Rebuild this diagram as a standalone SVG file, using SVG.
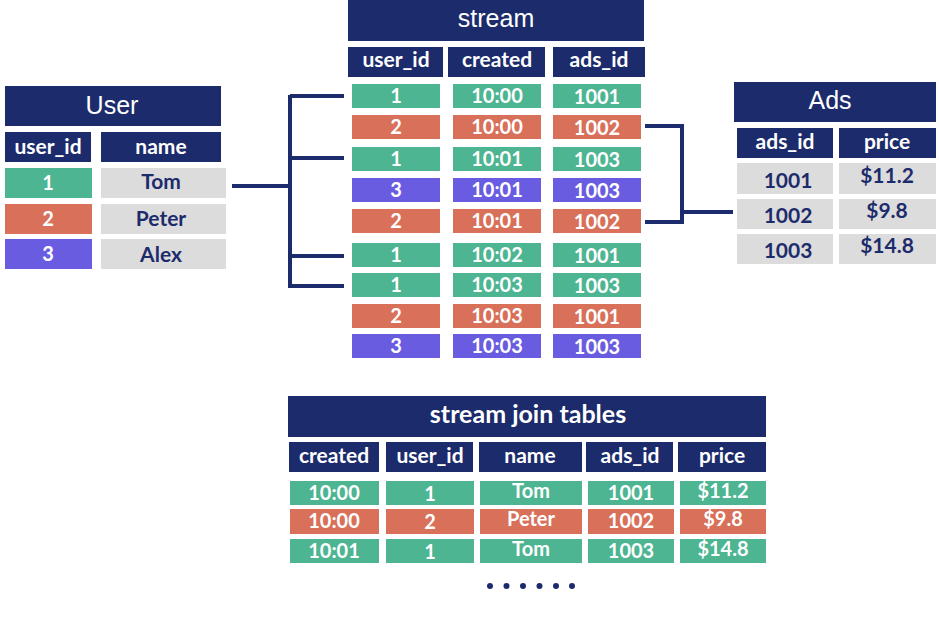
<svg xmlns="http://www.w3.org/2000/svg" width="939" height="620" viewBox="0 0 939 620">
<style>
.nv{fill:#1c2b6b}
.g{fill:#4db592}
.o{fill:#d8705a}
.p{fill:#6a5ce0}
.gr{fill:#dcdcdc}
.ttl{font-family:"Liberation Sans",Arial,sans-serif;font-size:25px;fill:#fff;text-anchor:middle}
.tb{font-family:Lato,"Open Sans",sans-serif;font-weight:bold;font-size:25px;fill:#fff;text-anchor:middle}
.hd{font-family:Lato,"Open Sans",sans-serif;font-weight:bold;font-size:21px;fill:#fff;text-anchor:middle}
.c{font-family:Lato,"Open Sans",sans-serif;font-weight:bold;font-size:20px;fill:#fff;text-anchor:middle}
.cd{font-family:Lato,"Open Sans",sans-serif;font-weight:bold;font-size:21px;fill:#1c2b6b;text-anchor:middle}
.ln{fill:none;stroke:#1c2b6b;stroke-width:4}
</style>
<rect width="939" height="620" fill="#fff"/>

<g id="connectors">
<path class="ln" d="M232,186 H290 M290,95 V288 M290,96 H344 M290,158 H344 M290,256 H344 M290,286 H344"/>
<path class="ln" d="M645,126 H682 V222 H645 M682,212 H733"/>
</g>

<g id="user">
<rect class="nv" x="5" y="86" width="216" height="40"/>
<text class="ttl" x="112" y="114">User</text>
<rect class="nv" x="5" y="132" width="86" height="30"/>
<text class="hd" x="48" y="154">user_id</text>
<rect class="nv" x="101" y="132" width="120" height="30"/>
<text class="hd" x="161" y="154">name</text>
<rect class="g" x="5" y="168" width="87" height="30"/>
<text class="c" x="48" y="190">1</text>
<rect class="gr" x="101" y="168" width="125" height="30"/>
<text class="cd" x="161" y="189">Tom</text>
<rect class="o" x="5" y="204" width="87" height="30"/>
<text class="c" x="48" y="226">2</text>
<rect class="gr" x="101" y="204" width="125" height="30"/>
<text class="cd" x="161" y="226">Peter</text>
<rect class="p" x="5" y="239" width="87" height="30"/>
<text class="c" x="48" y="261">3</text>
<rect class="gr" x="101" y="239" width="125" height="30"/>
<text class="cd" x="161" y="262">Alex</text>
</g>

<g id="stream">
<rect class="nv" x="348" y="0" width="296" height="41"/>
<text class="ttl" x="496" y="27">stream</text>
<rect class="nv" x="348" y="47" width="95" height="30"/>
<text class="hd" x="396" y="67">user_id</text>
<rect class="nv" x="448" y="47" width="97" height="30"/>
<text class="hd" x="497" y="67">created</text>
<rect class="nv" x="553" y="47" width="92" height="30"/>
<text class="hd" x="599" y="67">ads_id</text>

<rect class="g" x="352" y="84" width="88" height="24"/><text class="c" x="396" y="103">1</text>
<rect class="g" x="453" y="84" width="88" height="24"/><text class="c" x="497" y="103">10:00</text>
<rect class="g" x="553" y="84" width="88" height="24"/><text class="c" x="597" y="104">1001</text>

<rect class="o" x="352" y="115" width="88" height="24"/><text class="c" x="396" y="134">2</text>
<rect class="o" x="453" y="115" width="88" height="24"/><text class="c" x="497" y="134">10:00</text>
<rect class="o" x="553" y="115" width="88" height="24"/><text class="c" x="597" y="135">1002</text>

<rect class="g" x="352" y="147" width="88" height="24"/><text class="c" x="396" y="166">1</text>
<rect class="g" x="453" y="147" width="88" height="24"/><text class="c" x="497" y="166">10:01</text>
<rect class="g" x="553" y="147" width="88" height="24"/><text class="c" x="597" y="167">1003</text>

<rect class="p" x="352" y="178" width="88" height="24"/><text class="c" x="396" y="197">3</text>
<rect class="p" x="453" y="178" width="88" height="24"/><text class="c" x="497" y="197">10:01</text>
<rect class="p" x="553" y="178" width="88" height="24"/><text class="c" x="597" y="198">1003</text>

<rect class="o" x="352" y="209" width="88" height="24"/><text class="c" x="396" y="228">2</text>
<rect class="o" x="453" y="209" width="88" height="24"/><text class="c" x="497" y="228">10:01</text>
<rect class="o" x="553" y="209" width="88" height="24"/><text class="c" x="597" y="229">1002</text>

<rect class="g" x="352" y="243" width="88" height="24"/><text class="c" x="396" y="262">1</text>
<rect class="g" x="453" y="243" width="88" height="24"/><text class="c" x="497" y="262">10:02</text>
<rect class="g" x="553" y="243" width="88" height="24"/><text class="c" x="597" y="263">1001</text>

<rect class="g" x="352" y="273" width="88" height="24"/><text class="c" x="396" y="292">1</text>
<rect class="g" x="453" y="273" width="88" height="24"/><text class="c" x="497" y="292">10:03</text>
<rect class="g" x="553" y="273" width="88" height="24"/><text class="c" x="597" y="293">1003</text>

<rect class="o" x="352" y="304" width="88" height="24"/><text class="c" x="396" y="323">2</text>
<rect class="o" x="453" y="304" width="88" height="24"/><text class="c" x="497" y="323">10:03</text>
<rect class="o" x="553" y="304" width="88" height="24"/><text class="c" x="597" y="324">1001</text>

<rect class="p" x="352" y="334" width="88" height="24"/><text class="c" x="396" y="353">3</text>
<rect class="p" x="453" y="334" width="88" height="24"/><text class="c" x="497" y="353">10:03</text>
<rect class="p" x="553" y="334" width="88" height="24"/><text class="c" x="597" y="354">1003</text>
</g>

<g id="ads">
<rect class="nv" x="734" y="82" width="202" height="40"/>
<text class="ttl" x="830" y="109">Ads</text>
<rect class="nv" x="737" y="128" width="96" height="30"/>
<text class="hd" x="785" y="149">ads_id</text>
<rect class="nv" x="839" y="128" width="97" height="30"/>
<text class="hd" x="887" y="149">price</text>
<rect class="gr" x="737" y="163" width="96" height="31"/><text class="cd" x="788" y="188">1001</text>
<rect class="gr" x="839" y="163" width="97" height="31"/><text class="cd" x="887" y="183">$11.2</text>
<rect class="gr" x="737" y="199" width="96" height="30"/><text class="cd" x="788" y="223">1002</text>
<rect class="gr" x="839" y="199" width="97" height="30"/><text class="cd" x="887" y="218">$9.8</text>
<rect class="gr" x="737" y="234" width="96" height="30"/><text class="cd" x="788" y="258">1003</text>
<rect class="gr" x="839" y="234" width="97" height="30"/><text class="cd" x="887" y="253">$14.8</text>
</g>

<g id="join">
<rect class="nv" x="288" y="396" width="478" height="41"/>
<text class="tb" x="528" y="423">stream join tables</text>
<rect class="nv" x="289" y="442" width="90" height="30"/><text class="hd" x="334" y="463">created</text>
<rect class="nv" x="386" y="442" width="87" height="30"/><text class="hd" x="430" y="463">user_id</text>
<rect class="nv" x="479" y="442" width="103" height="30"/><text class="hd" x="530" y="463">name</text>
<rect class="nv" x="586" y="442" width="87" height="30"/><text class="hd" x="630" y="463">ads_id</text>
<rect class="nv" x="678" y="442" width="88" height="30"/><text class="hd" x="722" y="463">price</text>

<rect class="g" x="290" y="481" width="89" height="24"/><text class="c" x="334" y="500">10:00</text>
<rect class="g" x="386" y="481" width="88" height="24"/><text class="c" x="430" y="501">1</text>
<rect class="g" x="480" y="481" width="102" height="24"/><text class="c" x="531" y="498">Tom</text>
<rect class="g" x="588" y="481" width="86" height="24"/><text class="c" x="631" y="500">1001</text>
<rect class="g" x="680" y="481" width="86" height="24"/><text class="c" x="723" y="498">$11.2</text>

<rect class="o" x="290" y="509" width="89" height="25"/><text class="c" x="334" y="528">10:00</text>
<rect class="o" x="386" y="509" width="88" height="25"/><text class="c" x="430" y="529">2</text>
<rect class="o" x="480" y="509" width="102" height="25"/><text class="c" x="531" y="526">Peter</text>
<rect class="o" x="588" y="509" width="86" height="25"/><text class="c" x="631" y="528">1002</text>
<rect class="o" x="680" y="509" width="86" height="25"/><text class="c" x="723" y="526">$9.8</text>

<rect class="g" x="290" y="539" width="89" height="24"/><text class="c" x="334" y="558">10:01</text>
<rect class="g" x="386" y="539" width="88" height="24"/><text class="c" x="430" y="559">1</text>
<rect class="g" x="480" y="539" width="102" height="24"/><text class="c" x="531" y="556">Tom</text>
<rect class="g" x="588" y="539" width="86" height="24"/><text class="c" x="631" y="558">1003</text>
<rect class="g" x="680" y="539" width="86" height="24"/><text class="c" x="723" y="556">$14.8</text>

<g class="nv">
<circle cx="490" cy="586" r="3"/>
<circle cx="506.5" cy="586" r="3"/>
<circle cx="523" cy="586" r="3"/>
<circle cx="539.5" cy="586" r="3"/>
<circle cx="556" cy="586" r="3"/>
<circle cx="572" cy="586" r="3"/>
</g>
</g>
</svg>
